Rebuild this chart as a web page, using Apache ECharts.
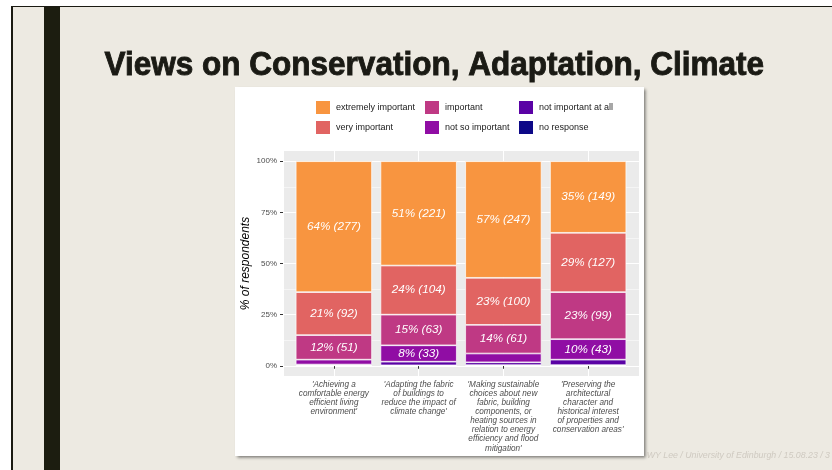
<!DOCTYPE html>
<html><head><meta charset="utf-8">
<script src="https://cdn.jsdelivr.net/npm/echarts@6/dist/echarts.min.js"></script>
<style>html,body{margin:0;padding:0;background:#fff}#c{width:832px;height:470px}</style>
</head><body><div id="c"></div>
<script>
const categories = [
  "'Achieving a\ncomfortable energy\nefficient living\nenvironment'",
  "'Adapting the fabric\nof buildings to\nreduce the impact of\nclimate change'",
  "'Making sustainable\nchoices about new\nfabric, building\ncomponents, or\nheating sources in\nrelation to energy\nefficiency and flood\nmitigation'",
  "'Preserving the\narchitectural\ncharacter and\nhistorical interest\nof properties and\nconservation areas'"
];
const levels = ['extremely important','very important','important','not so important','not important at all','no response'];
const levelColors = ['#F89540','#E16462','#BF3984','#900DA4','#5A02A5','#0D0887'];
// percentages of respondents
const extremelyImportant = [64, 51, 57, 35];
const veryImportant      = [21, 24, 23, 29];
const important          = [12, 15, 14, 23];
const notSoImportant     = [2.4, 8, 4.3, 10];
const notImportantAtAll  = [0.4, 1.8, 1.4, 2.7];
const noResponse         = [0.2, 0.2, 0.3, 0.3];
// counts of respondents
const extremelyImportantN = [277, 221, 247, 149];
const veryImportantN      = [92, 104, 100, 127];
const importantN          = [51, 63, 61, 99];
const notSoImportantN     = [10, 33, 19, 43];
const yTicks = [0, 25, 50, 75, 100];

const pctSeries = [extremelyImportant, veryImportant, important, notSoImportant, notImportantAtAll, noResponse];
const countSeries = [extremelyImportantN, veryImportantN, importantN, notSoImportantN, null, null];

const FONT = '"Liberation Sans", Arial, sans-serif';
const chart = echarts.init(document.getElementById('c'), null, {renderer: 'canvas'});

// panel geometry (ggplot-like: 0.6 category expansion, 5% y expansion)
const PL = 283, PT = 151, PW = 356, PH = 225;
const unit = PW / (categories.length - 1 + 1.2);
const yMinE = -5, yMaxE = 105;
const y0 = PT + PH * (yMaxE - 0) / (yMaxE - yMinE);
const y100 = PT + PH * (yMaxE - 100) / (yMaxE - yMinE);

// ECharts stacks the first series at the bottom, ggplot puts the first level on top
const series = levels.map((name, s) => ({
  name, type: 'bar', stack: 'total', xAxisIndex: 2, yAxisIndex: 2, z: 2,
  barWidth: unit * 0.9,
  data: pctSeries[s].slice(),
  itemStyle: {color: levelColors[s], borderColor: '#ffffff', borderWidth: 0.7},
  label: {
    show: true, position: 'inside', color: '#ffffff', fontStyle: 'italic',
    fontFamily: FONT, fontSize: 11.7,
    formatter: p => {
      const v = pctSeries[s][p.dataIndex];
      const n = countSeries[s];
      return (n && v >= 8) ? Math.round(v) + '% (' + n[p.dataIndex] + ')' : '';
    }
  }
})).reverse();

const legendCols = [[levels[0], levels[1]], [levels[2], levels[3]], [levels[4], levels[5]]];
const legendLeft = [314, 423, 517];

chart.setOption({
  animation: false,
  backgroundColor: '#ffffff',
  graphic: [
    {type: 'rect', z: -10, shape: {x: 11, y: 6, width: 821, height: 464}, style: {fill: '#1a1a12'}},
    {type: 'rect', z: -10, shape: {x: 13, y: 7, width: 819, height: 463}, style: {fill: '#EDEAE2'}},
    {type: 'rect', z: -10, shape: {x: 44, y: 7, width: 16, height: 463}, style: {fill: '#1C1D10'}},
    {type: 'text', z: -10, x: 104.5, y: 66, scaleX: 0.955, style: {text: 'Views on Conservation, Adaptation, Climate', font: 'bold 33px "Liberation Sans", sans-serif', fill: '#1A1A14', stroke: '#1A1A14', lineWidth: 0.9, verticalAlign: 'middle', align: 'left'}},
    {type: 'text', z: -10, x: 830, y: 456, style: {text: 'WY Lee / University of Edinburgh / 15.08.23 / 3', font: 'italic 8.8px "Liberation Sans", sans-serif', fill: '#CFCAC1', verticalAlign: 'middle', align: 'right'}},
    {type: 'rect', z: -9, shape: {x: 235, y: 87, width: 409, height: 369}, style: {fill: '#ffffff', shadowBlur: 3, shadowOffsetX: 1.5, shadowOffsetY: 1.5, shadowColor: 'rgba(0,0,0,0.5)'}}
  ],
  legend: legendCols.map((names, i) => ({
    orient: 'vertical', left: legendLeft[i], top: 99, padding: 0,
    itemWidth: 16, itemHeight: 15, itemGap: 3, icon: 'rect',
    data: names, selectedMode: false,
    textStyle: {fontFamily: FONT, fontSize: 9, color: '#1a1a1a'}
  })),
  grid: [
    {left: PL, top: PT, width: PW, height: PH, show: true, backgroundColor: '#EBEBEB', borderWidth: 0, z: 0, outerBoundsMode: 'none'},
    {left: PL, top: y100, width: PW, height: y0 - y100, show: false, z: 0, outerBoundsMode: 'none'},
    {left: PL + unit * 0.1, top: PT, width: unit * categories.length, height: PH, show: false, z: 0, outerBoundsMode: 'none'}
  ],
  xAxis: [
    {gridIndex: 0, type: 'value', min: -0.6, max: categories.length - 1 + 0.6, z: 1,
     axisLine: {show: false}, axisTick: {show: false}, axisLabel: {show: false},
     splitLine: {show: true, lineStyle: {color: '#ffffff', width: 1}}},
    {gridIndex: 1, type: 'value', show: false},
    {gridIndex: 2, type: 'category', data: categories, boundaryGap: true, z: 1,
     axisLine: {show: false},
     axisTick: {show: true, alignWithLabel: true, length: 3, lineStyle: {color: '#333333', width: 1}},
     axisLabel: {interval: 0, margin: 4, fontFamily: FONT, fontSize: 8.2, lineHeight: 9.1, fontStyle: 'italic', color: '#4D4D4D'},
     splitLine: {show: false}}
  ],
  yAxis: [
    {gridIndex: 0, type: 'value', min: 0, max: 1, show: false},
    {gridIndex: 1, type: 'value', min: yTicks[0], max: yTicks[yTicks.length - 1], interval: yTicks[1] - yTicks[0], z: 1,
     axisLine: {show: false},
     axisTick: {show: true, length: 3, lineStyle: {color: '#333333', width: 1}},
     axisLabel: {formatter: '{value}%', margin: 6, fontFamily: FONT, fontSize: 8, color: '#4D4D4D'},
     splitLine: {show: true, lineStyle: {color: '#ffffff', width: 1}},
     minorTick: {show: false, splitNumber: 2},
     minorSplitLine: {show: true, lineStyle: {color: '#ffffff', width: 0.5}},
     name: '% of respondents', nameLocation: 'middle', nameGap: 31,
     nameTextStyle: {fontFamily: FONT, fontSize: 12, fontStyle: 'italic', color: '#000000'}},
    {gridIndex: 2, type: 'value', min: yMinE, max: yMaxE, show: false}
  ],
  series
});
</script>
</body></html>
